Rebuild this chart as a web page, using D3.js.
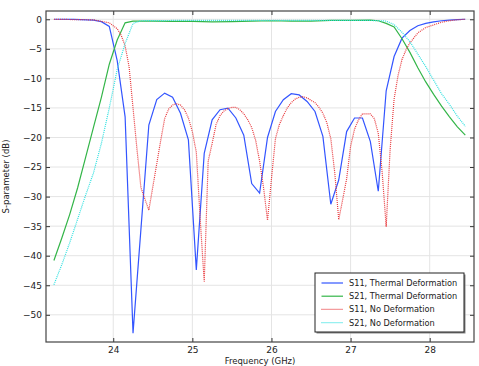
<!DOCTYPE html>
<html>
<head>
<meta charset="utf-8">
<script src="https://cdn.jsdelivr.net/npm/d3@7"></script>
<style>
  body { margin: 0; background: #fff; }
  svg { display: block; font-family: "DejaVu Sans", sans-serif; }
</style>
</head>
<body>
<svg id="chart" width="479" height="366"></svg>
<script>
// S-parameter data (frequency in GHz, value in dB)
const s11ThermalFreq = [23.25, 23.5, 23.75, 23.85, 23.95, 24.05, 24.15, 24.25, 24.35, 24.45, 24.55, 24.65, 24.75, 24.85, 24.95, 25.05, 25.15, 25.25, 25.35, 25.45, 25.55, 25.65, 25.75, 25.85, 25.95, 26.05, 26.15, 26.25, 26.35, 26.45, 26.55, 26.65, 26.75, 26.85, 26.95, 27.05, 27.15, 27.25, 27.35, 27.45, 27.55, 27.65, 27.75, 27.85, 27.95, 28.05, 28.15, 28.25, 28.35, 28.45];
const s11Thermal = [0, -0.02, -0.15, -0.4, -1.2, -7, -16.5, -53.1, -35.5, -17.9, -13.6, -12.5, -13.2, -15.9, -20.4, -42.4, -22.7, -17.0, -15.3, -15.05, -16.7, -19.6, -27.8, -29.4, -20.0, -15.6, -13.6, -12.6, -12.8, -13.9, -15.6, -19.8, -31.3, -27.2, -19.0, -16.7, -16.7, -20.7, -29.1, -12.1, -6.3, -3.2, -1.9, -1.1, -0.7, -0.45, -0.25, -0.15, -0.07, 0];

const s21ThermalFreq = [23.25, 23.35, 23.45, 23.55, 23.65, 23.75, 23.85, 23.95, 24.05, 24.15, 24.25, 24.5, 24.75, 25.0, 25.25, 25.5, 25.75, 26.0, 26.25, 26.5, 26.75, 27.0, 27.25, 27.35, 27.45, 27.55, 27.65, 27.75, 27.85, 27.95, 28.05, 28.15, 28.25, 28.35, 28.45];
const s21Thermal = [-40.8, -37.0, -33.0, -28.5, -23.4, -18.3, -13.2, -7.6, -3.5, -0.6, -0.3, -0.3, -0.35, -0.35, -0.45, -0.4, -0.3, -0.25, -0.3, -0.3, -0.2, -0.2, -0.15, -0.25, -0.7, -1.3, -3.3, -5.6, -8.2, -10.6, -12.7, -14.7, -16.5, -18.2, -19.6];

const s11NoDefFreq = [23.25, 23.75, 23.95, 24.05, 24.1, 24.15, 24.2, 24.25, 24.3, 24.35, 24.45, 24.6, 24.65, 24.7, 24.75, 24.8, 24.85, 24.9, 24.95, 25.0, 25.05, 25.1, 25.15, 25.2, 25.25, 25.3, 25.35, 25.4, 25.45, 25.5, 25.55, 25.6, 25.65, 25.7, 25.75, 25.8, 25.85, 25.9, 25.95, 26.0, 26.05, 26.1, 26.15, 26.2, 26.25, 26.3, 26.35, 26.4, 26.45, 26.5, 26.55, 26.6, 26.65, 26.7, 26.75, 26.8, 26.85, 26.9, 26.95, 27.0, 27.05, 27.1, 27.15, 27.2, 27.25, 27.3, 27.35, 27.4, 27.45, 27.5, 27.55, 27.6, 27.65, 27.7, 27.75, 27.85, 27.95, 28.05, 28.15, 28.25, 28.35, 28.45];
const s11NoDef = [0, -0.1, -0.6, -1.6, -2.7, -4.5, -8, -15, -22, -28.5, -32.3, -20.5, -16.8, -15.2, -14.5, -14.3, -14.5, -15.3, -16.7, -19.0, -22.5, -34, -44.4, -24, -21, -17.8, -16.3, -15.5, -15.1, -14.9, -14.9, -15.3, -16.0, -17.0, -18.3, -20.5, -24, -28.5, -34, -27, -20.2, -17.8, -16.3, -15, -14.1, -13.5, -13.2, -13.1, -13.3, -13.7, -14.1, -14.9, -15.9, -17.5, -20.2, -26, -33.9, -30.5, -27, -21.5, -18.6, -17, -16.0, -16.0, -16.0, -16.8, -19.3, -26, -35.1, -22, -13.5, -9.5, -6.8, -5.2, -4.0, -2.3, -1.4, -0.95, -0.5, -0.24, -0.08, 0];

const s21NoDefFreq = [23.25, 23.35, 23.45, 23.55, 23.65, 23.75, 23.85, 23.95, 24.05, 24.15, 24.25, 24.35, 24.75, 25.25, 25.75, 26.25, 26.75, 27.25, 27.45, 27.55, 27.65, 27.75, 27.85, 27.95, 28.05, 28.15, 28.25, 28.35, 28.45];
const s21NoDef = [-44.9, -41.5, -37.8, -33.8, -29.8, -26.0, -21.0, -15.0, -8.5, -4.1, -0.7, -0.25, -0.2, -0.2, -0.2, -0.2, -0.2, -0.2, -0.3, -0.9, -2.2, -3.8, -5.9, -8.0, -10.3, -12.6, -14.4, -16.4, -18.1];

const xTicks = [24, 25, 26, 27, 28];
const yTicks = [0, -5, -10, -15, -20, -25, -30, -35, -40, -45, -50];
const seriesNames = ["S11, Thermal Deformation", "S21, Thermal Deformation", "S11, No Deformation", "S21, No Deformation"];

const series = [
  { name: seriesNames[0], f: s11ThermalFreq, v: s11Thermal, color: "#3355ff", dash: null },
  { name: seriesNames[1], f: s21ThermalFreq, v: s21Thermal, color: "#33b548", dash: null },
  { name: seriesNames[2], f: s11NoDefFreq, v: s11NoDef, color: "#e8383c", dash: "1,1" },
  { name: seriesNames[3], f: s21NoDefFreq, v: s21NoDef, color: "#2ee0e0", dash: "1,1" }
];

const width = 479, height = 366;
const margin = { top: 11, right: 5, bottom: 24, left: 46 };
const innerW = width - margin.left - margin.right;
const innerH = height - margin.top - margin.bottom;

const svg = d3.select("#chart");
const g = svg.append("g").attr("transform", `translate(${margin.left},${margin.top})`);

const x = d3.scaleLinear().domain([23.15, 28.56]).range([0, innerW]);
const y = d3.scaleLinear().domain([-54.6, 1.4]).range([innerH, 0]);

// grid lines
g.append("g").selectAll("line.vg").data(xTicks).join("line")
  .attr("x1", d => x(d)).attr("x2", d => x(d))
  .attr("y1", 0).attr("y2", innerH)
  .attr("stroke", "#e4e4e4").attr("stroke-width", 1);
g.append("g").selectAll("line.hg").data(yTicks).join("line")
  .attr("x1", 0).attr("x2", innerW)
  .attr("y1", d => y(d)).attr("y2", d => y(d))
  .attr("stroke", "#e4e4e4").attr("stroke-width", 1);

// curves
const line = d3.line().x(d => x(d[0])).y(d => y(d[1]));
series.forEach(s => {
  const pts = s.f.map((f, i) => [f, s.v[i]]);
  g.append("path")
    .datum(pts)
    .attr("d", line)
    .attr("fill", "none")
    .attr("stroke", s.color)
    .attr("stroke-width", 1.2)
    .attr("stroke-dasharray", s.dash);
});

// axes: ticks on all four sides, pointing inward
const tickLen = 4;
const fmt = d3.format("d");
const xBottom = d3.axisBottom(x).tickValues(xTicks).tickFormat(fmt).tickSizeInner(-tickLen).tickSizeOuter(0).tickPadding(5);
const xTop = d3.axisTop(x).tickValues(xTicks).tickSizeInner(-tickLen).tickSizeOuter(0).tickFormat("");
const yLeft = d3.axisLeft(y).tickValues(yTicks).tickFormat(fmt).tickSizeInner(-tickLen).tickSizeOuter(0).tickPadding(4);
const yRight = d3.axisRight(y).tickValues(yTicks).tickSizeInner(-tickLen).tickSizeOuter(0).tickFormat("");

const styleAxis = sel => {
  sel.select(".domain").remove();
  sel.selectAll("line").attr("stroke", "#333");
  sel.selectAll("text").attr("fill", "#222").style("font-size", "9px").style("font-family", "DejaVu Sans, sans-serif");
};

g.append("g").attr("transform", `translate(0,${innerH})`).call(xBottom).call(styleAxis);
g.append("g").call(xTop).call(styleAxis);
g.append("g").call(yLeft).call(styleAxis);
g.append("g").attr("transform", `translate(${innerW},0)`).call(yRight).call(styleAxis);

// frame
g.append("rect").attr("width", innerW).attr("height", innerH)
  .attr("fill", "none").attr("stroke", "#444").attr("stroke-width", 1.2);

// axis titles
svg.append("text")
  .attr("x", margin.left + innerW / 2).attr("y", 363.5)
  .attr("text-anchor", "middle").attr("fill", "#222")
  .style("font-size", "8.5px")
  .text("Frequency (GHz)");
svg.append("text")
  .attr("transform", `translate(9,${margin.top + innerH / 2}) rotate(-90)`)
  .attr("text-anchor", "middle").attr("fill", "#222")
  .style("font-size", "8.5px")
  .text("S-parameter (dB)");

// legend
const lg = svg.append("g").attr("transform", "translate(315,273)");
const lgW = 149, lgH = 59;
lg.append("rect").attr("x", 1.5).attr("y", 1.5).attr("width", lgW).attr("height", lgH).attr("fill", "#888");
lg.append("rect").attr("width", lgW).attr("height", lgH).attr("fill", "#fff").attr("stroke", "#222").attr("stroke-width", 1);
series.forEach((s, i) => {
  const yy = 10 + i * 13.2;
  lg.append("line").attr("x1", 6.5).attr("x2", 28).attr("y1", yy).attr("y2", yy)
    .attr("stroke", s.color).attr("stroke-width", 1.2).attr("stroke-dasharray", s.dash);
  lg.append("text").attr("x", 34).attr("y", yy + 3)
    .attr("fill", "#222").style("font-size", "8.2px")
    .text(s.name);
});
</script>
</body>
</html>
